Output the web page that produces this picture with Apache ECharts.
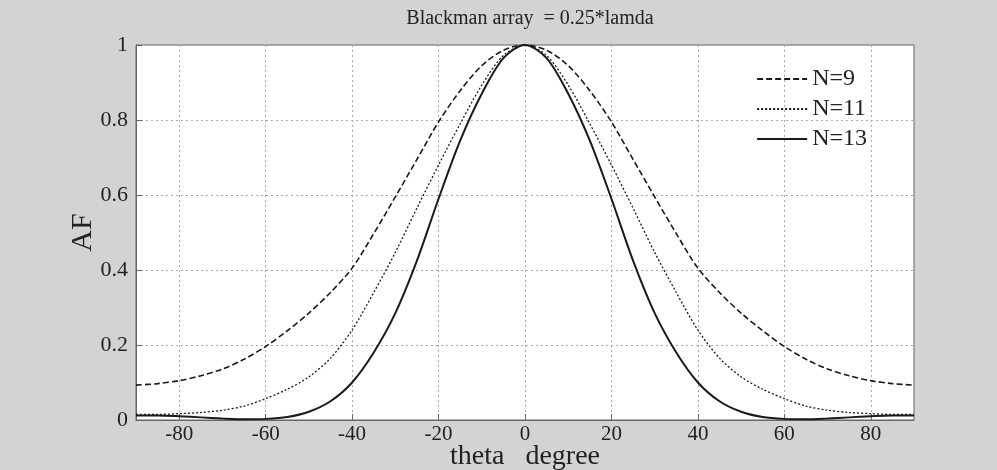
<!DOCTYPE html>
<html>
<head>
<meta charset="utf-8">
<script src="https://cdn.jsdelivr.net/npm/echarts@6/dist/echarts.min.js"></script>
<style>
  html, body { margin: 0; padding: 0; background: #d3d3d3; }
  #chart { width: 997px; height: 470px; }
</style>
</head>
<body>
<div id="chart"></div>
<script>
// angles in degrees, every 5 degrees
const angles = [-90, -85, -80, -75, -70, -65, -60, -55, -50, -45, -40, -35, -30, -25, -20, -15, -10, -5,
  0, 5, 10, 15, 20, 25, 30, 35, 40, 45, 50, 55, 60, 65, 70, 75, 80, 85, 90]

const n9 = [0.093, 0.097, 0.105, 0.118, 0.136, 0.162, 0.196, 0.238, 0.285, 0.340, 0.405, 0.497, 0.595, 0.695, 0.795, 0.878, 0.945, 0.986,
  1.0, 0.986, 0.945, 0.878, 0.795, 0.695, 0.595, 0.497, 0.405, 0.340, 0.285, 0.238, 0.196, 0.162, 0.136, 0.118, 0.105, 0.097, 0.093]

const n11 = [0.015, 0.015, 0.017, 0.020, 0.026, 0.037, 0.057, 0.082, 0.115, 0.165, 0.240, 0.340, 0.447, 0.565, 0.680, 0.790, 0.893, 0.972,
  1.0, 0.972, 0.893, 0.790, 0.680, 0.565, 0.447, 0.340, 0.240, 0.165, 0.115, 0.082, 0.057, 0.037, 0.026, 0.020, 0.017, 0.015, 0.015]

const n13 = [0.012, 0.012, 0.010, 0.007, 0.004, 0.002, 0.003, 0.008, 0.022, 0.050, 0.100, 0.180, 0.285, 0.425, 0.590, 0.745, 0.870, 0.965,
  1.0, 0.965, 0.870, 0.745, 0.590, 0.425, 0.285, 0.180, 0.100, 0.050, 0.022, 0.008, 0.003, 0.002, 0.004, 0.007, 0.010, 0.012, 0.012]

const xTicks = [-80, -60, -40, -20, 0, 20, 40, 60, 80]

const serif = 'Liberation Serif'
const chart = echarts.init(document.getElementById('chart'))

function pairs(values) {
  return angles.map((a, i) => [a, values[i]])
}

function curve(name, values, type, width) {
  return {
    name,
    type: 'line',
    data: pairs(values),
    symbol: 'none',
    smooth: 0.3,
    lineStyle: { color: '#1a1a1a', width, type },
    itemStyle: { color: '#1a1a1a' },
  }
}

const splitStyle = { show: true, lineStyle: { color: '#a8a8a8', type: [2, 3], width: 1 } }

chart.setOption({
  animation: false,
  backgroundColor: '#d3d3d3',
  title: {
    text: 'Blackman array  = 0.25*lamda',
    left: 525, top: 4, textAlign: 'center',
    textStyle: { fontFamily: serif, fontSize: 20, fontWeight: 'normal', color: '#222' },
  },
  grid: {
    left: 136, right: 83, top: 45, bottom: 50, outerBoundsMode: 'none',
    show: true, backgroundColor: '#fff', borderColor: '#666', borderWidth: 1,
  },
  legend: {
    orient: 'vertical',
    right: 125, top: 62,
    itemWidth: 50, itemHeight: 14, itemGap: 6,
    itemStyle: { opacity: 0 },
    textStyle: { fontFamily: serif, fontSize: 24, color: '#222' },
    data: ['N=9', 'N=11', 'N=13'],
  },
  xAxis: {
    type: 'value', min: -90, max: 90,
    name: 'theta   degree', nameLocation: 'middle', nameGap: 23, nameMoveOverlap: false,
    nameTextStyle: { fontFamily: serif, fontSize: 28, color: '#222' },
    axisLine: { show: true, onZero: false, lineStyle: { color: '#666' } },
    axisTick: { show: true, inside: true, length: 6, customValues: xTicks, lineStyle: { color: '#666' } },
    axisLabel: { customValues: xTicks, fontFamily: serif, fontSize: 21, color: '#222', margin: 4 },
    splitLine: splitStyle,
  },
  yAxis: {
    type: 'value', min: 0, max: 1, interval: 0.2,
    name: 'AF', nameLocation: 'middle', nameGap: 38, nameRotate: 90, nameMoveOverlap: false,
    nameTextStyle: { fontFamily: serif, fontSize: 30, color: '#222' },
    axisLine: { show: true, onZero: false, lineStyle: { color: '#666' } },
    axisTick: { show: true, inside: true, length: 6, lineStyle: { color: '#666' } },
    axisLabel: { fontFamily: serif, fontSize: 22, color: '#222', margin: 8, formatter: (v) => String(Math.round(v * 10) / 10) },
    splitLine: splitStyle,
  },
  series: [
    curve('N=9', n9, [6, 3], 1.6),
    curve('N=11', n11, [2, 2], 1.3),
    curve('N=13', n13, 'solid', 2),
  ],
})
</script>
</body>
</html>
